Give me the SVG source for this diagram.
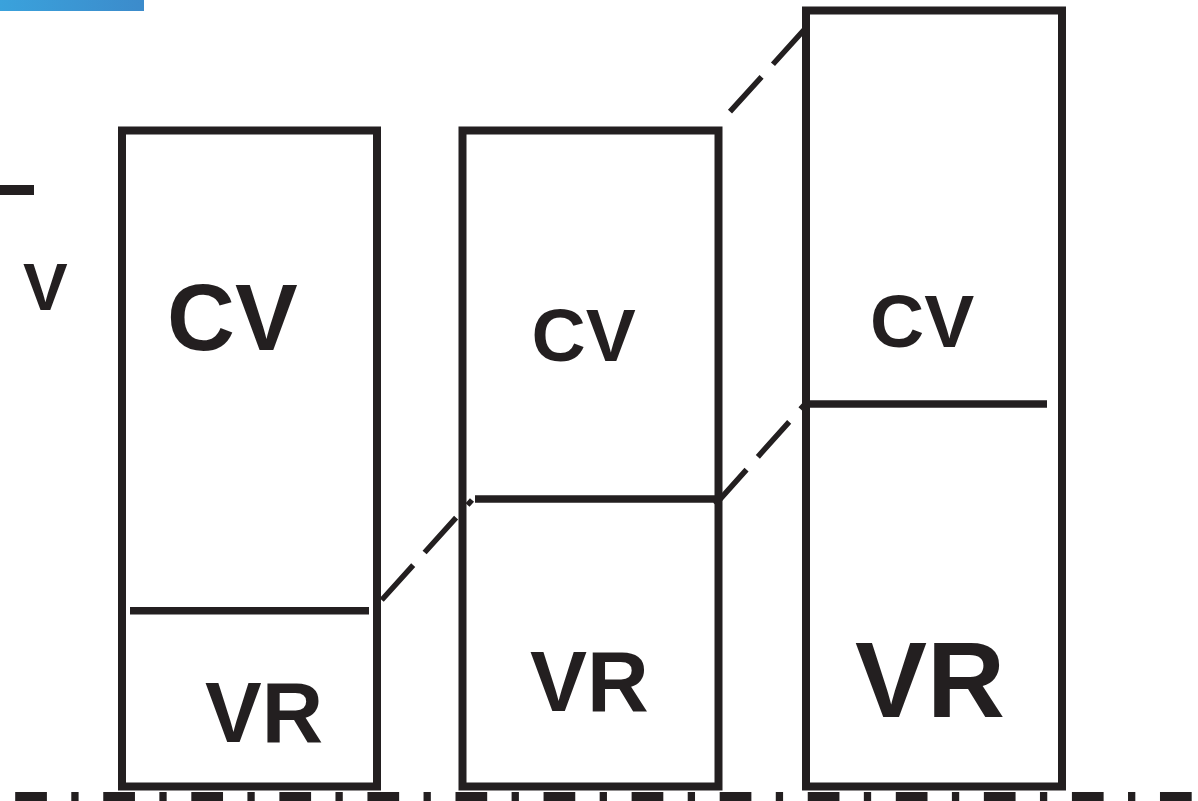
<svg xmlns="http://www.w3.org/2000/svg" width="1198" height="801" viewBox="0 0 1198 801">
  <style>
    .box { fill: none; stroke: #231f20; stroke-width: 8; }
    .div { stroke: #231f20; stroke-width: 7.5; fill: none; }
    .conn { stroke: #231f20; stroke-width: 5.5; fill: none; stroke-dasharray: 47 17; }
    .lbl { font-family: "Liberation Sans", Arial, sans-serif; font-weight: bold; fill: #231f20; }
  </style>
  <defs>
    <linearGradient id="blue" x1="0" y1="0" x2="1" y2="0">
      <stop offset="0" stop-color="#3aa2dc"/>
      <stop offset="1" stop-color="#3c8bcb"/>
    </linearGradient>
  </defs>
  <rect width="1198" height="801" fill="#ffffff"/>
  <rect x="0" y="0" width="144" height="11" fill="url(#blue)"/>

  <g id="left-axis">
    <rect x="0" y="185" width="34" height="10" fill="#231f20"/>
    <text class="lbl" x="23" y="310" font-size="67">V</text>
  </g>

  <g id="connectors">
    <path class="conn" d="M381.7,600 L472,500"/>
    <path class="conn" d="M730,111.7 L806,27.8"/>
    <path class="conn" d="M715.2,504.6 L806,403"/>
    <path d="M15.2,798 L1198,798" stroke="#231f20" stroke-width="12" fill="none" stroke-dasharray="31.7 24.4 7.3 24.66"/>
  </g>

  <g id="bar1">
    <rect class="box" x="122" y="130.5" width="255" height="656"/>
    <line class="div" x1="130" y1="610.7" x2="369" y2="610.7"/>
    <text class="lbl" x="167" y="350" font-size="94">CV</text>
    <text class="lbl" x="205" y="741.7" font-size="85">VR</text>
  </g>

  <g id="bar2">
    <rect class="box" x="462.5" y="130.5" width="256" height="656"/>
    <line class="div" x1="475" y1="499" x2="715" y2="499"/>
    <text class="lbl" x="531.5" y="360.7" font-size="75">CV</text>
    <text class="lbl" x="530" y="710.7" font-size="85.5">VR</text>
  </g>

  <g id="bar3">
    <rect class="box" x="806" y="10.5" width="256" height="776"/>
    <line class="div" x1="810" y1="404" x2="1047" y2="404"/>
    <text class="lbl" x="870" y="346.7" font-size="75">CV</text>
    <text class="lbl" x="855" y="716.7" font-size="108">VR</text>
  </g>
</svg>
